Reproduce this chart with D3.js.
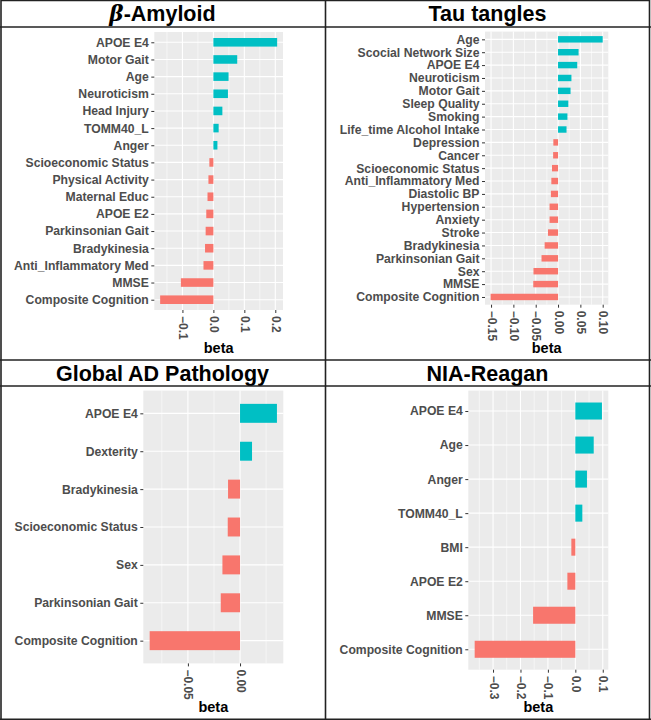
<!DOCTYPE html>
<html><head><meta charset="utf-8">
<script src="https://cdn.jsdelivr.net/npm/d3@7"></script>
<style>body{margin:0;background:#fff}svg{display:block}</style>
</head><body>
<script>
// ---- data ----
const amyloidCats = ["APOE E4","Motor Gait","Age","Neuroticism","Head Injury","TOMM40_L","Anger","Scioeconomic Status","Physical Activity","Maternal Educ","APOE E2","Parkinsonian Gait","Bradykinesia","Anti_Inflammatory Med","MMSE","Composite Cognition"];
const amyloidVals = [0.206,0.077,0.049,0.047,0.029,0.017,0.013,-0.013,-0.016,-0.019,-0.023,-0.025,-0.027,-0.032,-0.105,-0.172];
const amyloidTicks = [-0.1,0,0.1,0.2];

const tauCats = ["Age","Scocial Network Size","APOE E4","Neuroticism","Motor Gait","Sleep Quality","Smoking","Life_time Alcohol Intake","Depression","Cancer","Scioeconomic Status","Anti_Inflammatory Med","Diastolic BP","Hypertension","Anxiety","Stroke","Bradykinesia","Parkinsonian Gait","Sex","MMSE","Composite Cognition"];
const tauVals = [0.100,0.046,0.043,0.030,0.028,0.023,0.021,0.019,-0.0105,-0.011,-0.0135,-0.015,-0.016,-0.019,-0.019,-0.0225,-0.030,-0.037,-0.055,-0.0555,-0.151];
const tauTicks = [-0.15,-0.10,-0.05,0,0.05,0.10];

const globalCats = ["APOE E4","Dexterity","Bradykinesia","Scioeconomic Status","Sex","Parkinsonian Gait","Composite Cognition"];
const globalVals = [0.0354,0.0115,-0.0115,-0.0118,-0.0169,-0.0185,-0.0867];
const globalTicks = [-0.05,0];

const niaCats = ["APOE E4","Age","Anger","TOMM40_L","BMI","APOE E2","MMSE","Composite Cognition"];
const niaVals = [0.097,0.067,0.0424,0.0255,-0.0145,-0.029,-0.154,-0.367];
const niaTicks = [-0.3,-0.2,-0.1,0,0.1];

const xLabel = "beta";
// ---- layout ----
const W = 651, H = 720;
const svg = d3.select("body").append("svg").attr("width",W).attr("height",H);
svg.append("rect").attr("width",W).attr("height",H).attr("fill","#fff");

const panels = [
  {title:"Amyloid", beta:true, cats:amyloidCats, vals:amyloidVals, ticks:amyloidTicks, fmt:".1f",
   box:{l:154.3,r:283,t:32,b:310}, cx:162.5, ty:20.5, by:353},
  {title:"Tau tangles", cats:tauCats, vals:tauVals, ticks:tauTicks, fmt:".2f",
   box:{l:485,r:608.3,t:31.6,b:304.7}, cx:487.5, ty:20.5, by:353},
  {title:"Global AD Pathology", cats:globalCats, vals:globalVals, ticks:globalTicks, fmt:".2f",
   box:{l:143.3,r:283.3,t:390.6,b:663.4}, cx:162.5, ty:381, by:712},
  {title:"NIA-Reagan", cats:niaCats, vals:niaVals, ticks:niaTicks, fmt:".1f",
   box:{l:468.3,r:608.3,t:390.6,b:669.7}, cx:487.5, ty:381, by:712}
];

const FONT = "'Liberation Sans', Arial, sans-serif";

panels.forEach(p => {
  const g = svg.append("g");
  const [mn, mx] = d3.extent(p.vals);
  const span = mx - mn;
  const x = d3.scaleLinear().domain([mn - 0.05*span, mx + 0.05*span]).range([p.box.l, p.box.r]);
  const y = d3.scalePoint().domain(p.cats).range([p.box.t, p.box.b]).padding(0.6);
  const step = y.step();

  g.append("rect").attr("x",p.box.l).attr("y",p.box.t)
    .attr("width",p.box.r-p.box.l).attr("height",p.box.b-p.box.t).attr("fill","#EBEBEB");

  // minor grid
  const stepT = p.ticks[1]-p.ticks[0];
  const minor = [];
  for (let i=-1;i<p.ticks.length;i++){
    const v = p.ticks[0] + (i+0.5)*stepT;
    const [d0,d1] = x.domain();
    if (v>d0 && v<d1) minor.push(v);
  }
  g.selectAll(".mn").data(minor).join("line")
    .attr("x1",d=>x(d)).attr("x2",d=>x(d)).attr("y1",p.box.t).attr("y2",p.box.b)
    .attr("stroke","#fff").attr("stroke-width",0.55);
  g.selectAll(".mj").data(p.ticks).join("line")
    .attr("x1",d=>x(d)).attr("x2",d=>x(d)).attr("y1",p.box.t).attr("y2",p.box.b)
    .attr("stroke","#fff").attr("stroke-width",1.1);
  g.selectAll(".hy").data(p.cats).join("line")
    .attr("x1",p.box.l).attr("x2",p.box.r).attr("y1",d=>y(d)).attr("y2",d=>y(d))
    .attr("stroke","#fff").attr("stroke-width",1.1);

  // bars
  g.selectAll(".bar").data(p.cats).join("rect")
    .attr("x",(d,i)=>x(Math.min(0,p.vals[i])))
    .attr("width",(d,i)=>Math.abs(x(p.vals[i])-x(0)))
    .attr("y",d=>y(d)-step*0.25).attr("height",step*0.5)
    .attr("fill",(d,i)=>p.vals[i]>=0?"#00BFC4":"#F8766D");

  // y axis
  const ya = g.append("g").attr("transform",`translate(${p.box.l},0)`)
    .call(d3.axisLeft(y).tickSize(3).tickPadding(2.5));
  ya.select(".domain").remove();
  ya.selectAll(".tick line").attr("stroke","#333").attr("stroke-width",1);
  ya.selectAll(".tick text").attr("font-family",FONT).attr("font-weight","bold")
    .attr("font-size","12.2px").attr("fill","#4D4D4D");

  // x axis
  const xa = g.append("g").attr("transform",`translate(0,${p.box.b})`)
    .call(d3.axisBottom(x).tickValues(p.ticks).tickFormat(d3.format(p.fmt)).tickSize(3));
  xa.select(".domain").remove();
  xa.selectAll(".tick line").attr("stroke","#333").attr("stroke-width",1);
  xa.selectAll(".tick text")
    .attr("font-family",FONT).attr("font-weight","bold").attr("font-size","12px").attr("fill","#4D4D4D")
    .attr("y",null).attr("dy",null)
    .attr("transform","translate(0,6) rotate(90)")
    .attr("text-anchor","start").attr("dominant-baseline","central");

  // axis title
  g.append("text").attr("x",(p.box.l+p.box.r)/2).attr("y",p.by)
    .attr("text-anchor","middle").attr("font-family",FONT).attr("font-weight","bold")
    .attr("font-size","14.5px").attr("fill","#000").text(xLabel);

  // panel title
  const t = g.append("text").attr("x",p.cx).attr("y",p.ty).attr("text-anchor","middle")
    .attr("font-family",FONT).attr("font-weight","bold").attr("font-size","21.5px").attr("fill","#000");
  if (p.beta) {
    t.append("tspan").attr("font-family","'DejaVu Serif', 'Liberation Serif', serif").attr("font-style","italic").text("β");
    t.append("tspan").text("-" + p.title);
  } else t.text(p.title);
});

// frame lines
const lines = [
  [1,0.5,649.5,0.5],[1,0,1,720],[649.5,0,649.5,720],[0,719.3,651,719.3],
  [325.5,0,325.5,720],[0,27,651,27],[0,360,651,360],[0,386,651,386]
];
svg.selectAll(".fr").data(lines).join("line")
  .attr("x1",d=>d[0]).attr("y1",d=>d[1]).attr("x2",d=>d[2]).attr("y2",d=>d[3])
  .attr("stroke","#222").attr("stroke-width",1.6);
</script>
</body></html>
